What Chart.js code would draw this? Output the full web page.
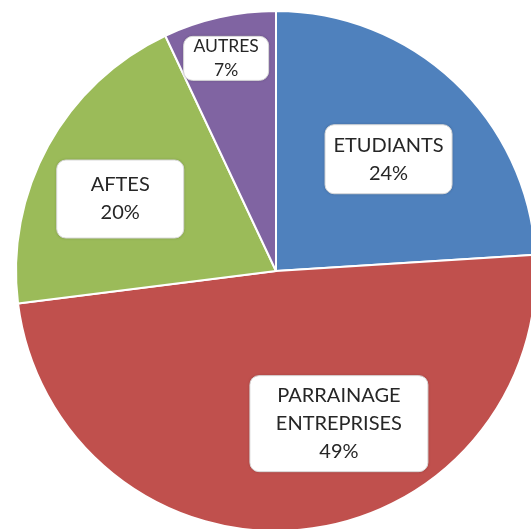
<!DOCTYPE html>
<html>
<head>
<meta charset="utf-8">
<script src="https://cdn.jsdelivr.net/npm/chart.js@4.4.1/dist/chart.umd.min.js"></script>
<style>
html,body{margin:0;padding:0;background:#fff;overflow:hidden;width:531px;height:529px;}
canvas{display:block;position:absolute;left:0;top:0;}
</style>
</head>
<body>
<canvas id="c" width="552" height="542"></canvas>
<script>
// Data
const categories = ["ETUDIANTS", "PARRAINAGE ENTREPRISES", "AFTES", "AUTRES"];
const values = [24, 49, 20, 7];
const labelLines = [["ETUDIANTS"], ["PARRAINAGE", "ENTREPRISES"], ["AFTES"], ["AUTRES"]];
const colors = ["#4F81BD", "#C0504D", "#9BBB59", "#8064A2"];

// Label layout (angle shift in degrees from slice mid-angle, radius fraction, box size, font)
const labelAngleShift = [2, -17, -4, -0.6];
const labelRadius = [0.61, 0.635, 0.66, 0.84];
const boxW = [127, 178, 127, 85];
const boxH = [69, 96, 78, 44];
const fontSize = [20, 20, 20, 17.5];
const lineGap = [28, 28, 28, 24];

const total = values.reduce((a,b)=>a+b,0);

const labelPlugin = {
  id: 'boxLabels',
  afterDatasetsDraw(chart) {
    const ctx = chart.ctx;
    const meta = chart.getDatasetMeta(0);
    meta.data.forEach((arc, i) => {
      const p = arc.getProps(['x','y','startAngle','endAngle','outerRadius'], true);
      const mid = (p.startAngle + p.endAngle) / 2 + labelAngleShift[i] * Math.PI / 180;
      const r = p.outerRadius * labelRadius[i];
      const cx = p.x + Math.cos(mid) * r;
      const cy = p.y + Math.sin(mid) * r;
      const w = boxW[i], h = boxH[i];
      ctx.save();
      ctx.shadowColor = 'rgba(0,0,0,0.25)';
      ctx.shadowBlur = 3;
      ctx.beginPath();
      ctx.roundRect(cx - w/2, cy - h/2, w, h, 9);
      ctx.fillStyle = '#ffffff';
      ctx.fill();
      ctx.shadowColor = 'transparent';
      ctx.strokeStyle = '#d9d9d9';
      ctx.lineWidth = 1;
      ctx.stroke();
      const lines = labelLines[i].concat([Math.round(values[i] / total * 100) + '%']);
      ctx.fillStyle = '#262626';
      ctx.font = fontSize[i] + 'px Lato';
      ctx.textAlign = 'center';
      ctx.textBaseline = 'middle';
      const lh = lineGap[i];
      const y0 = cy - (lines.length - 1) * lh / 2;
      lines.forEach((t, k) => ctx.fillText(t, cx, y0 + k * lh));
      ctx.restore();
    });
  }
};

new Chart(document.getElementById('c'), {
  type: 'pie',
  data: {
    labels: categories,
    datasets: [{
      data: values,
      backgroundColor: colors,
      borderColor: '#ffffff',
      borderWidth: 2
    }]
  },
  options: {
    responsive: false,
    devicePixelRatio: 1,
    animation: false,
    layout: { padding: 10 },
    plugins: { legend: { display: false }, tooltip: { enabled: false } }
  },
  plugins: [labelPlugin]
});
</script>
</body>
</html>
